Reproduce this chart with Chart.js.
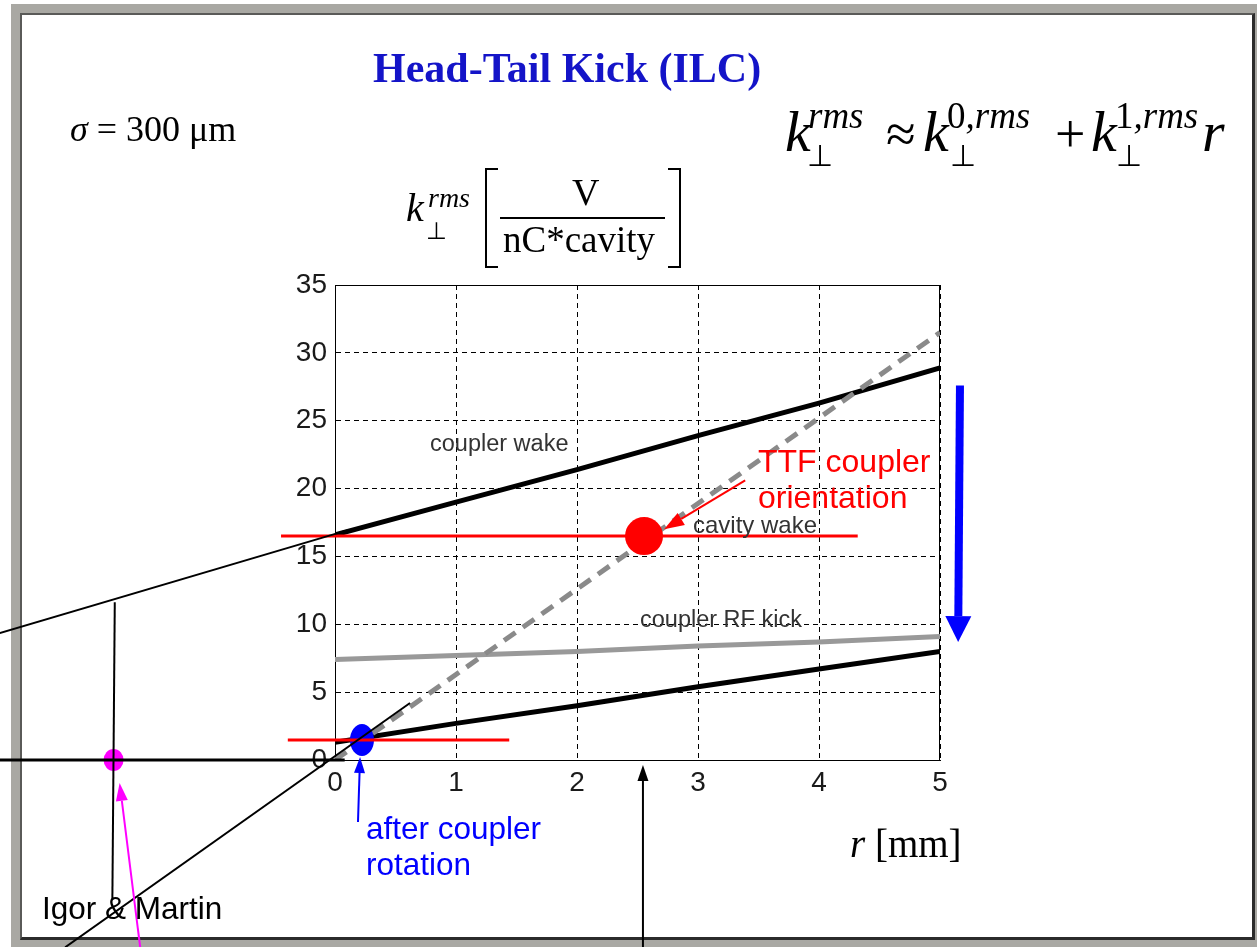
<!DOCTYPE html>
<html lang="en">
  <head>
    <meta charset="UTF-8" />
    <title>Head-Tail Kick (ILC)</title>
    <script src="https://cdn.jsdelivr.net/npm/chart.js"></script>
    <style>
      body {
        margin: 0;
        width: 1257px;
        height: 947px;
        background: #fff;
        position: relative;
        overflow: hidden;
      }
      .frame {
        position: absolute;
        left: 11px;
        top: 4px;
        right: 0;
        bottom: 0;
        background: #a9a8a3;
      }
      .slide {
        position: absolute;
        left: 20px;
        top: 13px;
        width: 1230px;
        height: 922px;
        background: #fff;
        border-left: 2px solid #5a5a58;
        border-top: 2px solid #5a5a58;
        border-right: 3px solid #2b2b2b;
        border-bottom: 3px solid #2b2b2b;
      }
      #chart {
        position: absolute;
        left: 0;
        top: 0;
      }
      .t {
        position: absolute;
        white-space: nowrap;
      }
      .br {
        position: absolute;
        border: 0 solid #000;
      }
    </style>
  </head>

  <body>
    <div class="frame"></div>
    <div class="slide"></div>
    <canvas id="chart" width="1257" height="947"></canvas>
    <div id="texts"></div>
    <div class="br" style="left:485px; top:168px; width:11px; height:96px; border-width:2px 0 2px 2px"></div>
    <div class="br" style="left:668px; top:168px; width:11px; height:96px; border-width:2px 2px 2px 0"></div>
    <div class="br" style="left:500px; top:217px; width:165px; height:0; border-top-width:2px"></div>

    <script>
      // values
      const rValues = [0, 1, 2, 3, 4, 5];
      const couplerWake = [16.6, 19.0, 21.4, 23.9, 26.3, 28.9];
      const cavityWake = [0, 6.3, 12.6, 18.9, 25.2, 31.5];
      const couplerRfKick = [7.4, 7.7, 8.0, 8.4, 8.7, 9.1];
      const afterRotation = [1.3, 2.7, 4.0, 5.4, 6.7, 8.0];
      const yTickValues = [0, 5, 10, 15, 20, 25, 30, 35];
      const xTickValues = [0, 1, 2, 3, 4, 5];

      const SERIF = '"Liberation Serif", "Times New Roman", serif';
      const SANS = '"Liberation Sans", Arial, sans-serif';

      // slide texts: [html, left, baseline, size, family, style]
      const texts = [
        ["Head-Tail Kick (ILC)", 373, 82, 42, SERIF, "font-weight:bold;color:#1414c8"],
        ["<i>σ</i> = 300 μm", 70, 141, 36, SERIF, ""],
        // right formula
        ["<i>k</i>", 785, 152, 58, SERIF, ""],
        ["<i>rms</i>", 808, 128, 37, SERIF, ""],
        ["⊥", 807, 166, 30, SERIF, ""],
        ["≈", 886, 152, 54, SERIF, ""],
        ["<i>k</i>", 923, 152, 58, SERIF, ""],
        ["0<i>,rms</i>", 947, 128, 37, SERIF, ""],
        ["⊥", 950, 166, 30, SERIF, ""],
        ["+", 1055, 152, 54, SERIF, ""],
        ["<i>k</i>", 1091, 152, 58, SERIF, ""],
        ["1<i>,rms</i>", 1115, 128, 37, SERIF, ""],
        ["⊥", 1116, 166, 30, SERIF, ""],
        ["<i>r</i>", 1202, 152, 58, SERIF, ""],
        // y axis unit
        ["<i>k</i>", 406, 221, 40, SERIF, ""],
        ["<i>rms</i>", 428, 207, 28, SERIF, ""],
        ["⊥", 426, 239, 24, SERIF, ""],
        ["V", 572, 205, 38, SERIF, ""],
        ["nC*cavity", 503, 252, 37, SERIF, ""],
        // x axis unit
        ["<i>r</i> [mm]", 850, 857, 39, SERIF, ""],
        // labels on the plot
        ["coupler wake", 430, 452, 23.5, SANS, "color:#333"],
        ["cavity wake", 693, 533, 24, SANS, "color:#333"],
        ["coupler RF kick", 640, 628, 23.5, SANS, "color:#333"],
        ["TTF coupler", 758, 472, 32, SANS, "color:#f00"],
        ["orientation", 758, 508, 32, SANS, "color:#f00"],
        ["after coupler", 366, 840, 31.5, SANS, "color:#00f"],
        ["rotation", 366, 876, 31.5, SANS, "color:#00f"],
        ["Igor &amp; Martin", 42, 920, 31.5, SANS, "color:#000"],
      ];

      const box = document.getElementById("texts");
      texts.forEach(([html, x, base, size, fam, extra]) => {
        const s = document.createElement("span");
        s.className = "t";
        s.innerHTML = html;
        const asc = fam === SERIF ? 0.8375 : 0.8465;
        s.style.cssText =
          `left:${x}px;top:${base - asc * size}px;font-size:${size}px;line-height:${size}px;font-family:${fam};` + extra;
        box.appendChild(s);
      });

      // annotation marks, in data units (r, k)
      const guideLines = [
        { from: [-2.77, 9.35], to: [0.107, 16.94], color: "#000", w: 2 },
        { from: [-1.82, 11.63], to: [-1.84, -10.3], color: "#000", w: 2 },
        { from: [-2.77, 0], to: [0.08, 0], color: "#000", w: 3 },
        { from: [-2.23, -13.8], to: [0.62, 4.2], color: "#000", w: 2 },
      ];
      const redLines = [
        { from: [-0.446, 16.5], to: [4.32, 16.5], color: "#f00", w: 3 },
        { from: [-0.39, 1.47], to: [1.44, 1.47], color: "#f00", w: 3 },
      ];
      const arrows = [
        { from: [2.545, -13.8], to: [2.545, -0.37], color: "#000", w: 2, hl: 16, hw: 11 },
        { from: [0.19, -4.57], to: [0.207, 0.22], color: "#00f", w: 2, hl: 16, hw: 11 },
        { from: [-1.61, -13.8], to: [-1.78, -1.69], color: "#f0f", w: 2, hl: 18, hw: 12 },
        { from: [3.39, 20.6], to: [2.72, 17.0], color: "#f00", w: 2, hl: 20, hw: 14 },
        { from: [5.165, 27.6], to: [5.15, 8.69], color: "#00f", w: 8, hl: 26, hw: 26 },
      ];
      const blueSpot = { at: [0.223, 1.47], rx: 12, ry: 16, color: "#00f" };
      const topDots = [
        { at: [2.554, 16.5], rx: 19, ry: 19, color: "#f00" },
        { at: [-1.83, 0], rx: 10, ry: 11, color: "#f0f" },
      ];

      function toPx(chart, p) {
        return [chart.scales.x.getPixelForValue(p[0]), chart.scales.y.getPixelForValue(p[1])];
      }
      function drawLine(ctx, chart, l) {
        const a = toPx(chart, l.from);
        const b = toPx(chart, l.to);
        ctx.strokeStyle = l.color;
        ctx.lineWidth = l.w;
        ctx.beginPath();
        ctx.moveTo(a[0], a[1]);
        ctx.lineTo(b[0], b[1]);
        ctx.stroke();
      }
      function drawArrow(ctx, chart, ar) {
        const a = toPx(chart, ar.from);
        const b = toPx(chart, ar.to);
        const ang = Math.atan2(b[1] - a[1], b[0] - a[0]);
        const bx = b[0] - Math.cos(ang) * ar.hl;
        const by = b[1] - Math.sin(ang) * ar.hl;
        ctx.strokeStyle = ar.color;
        ctx.fillStyle = ar.color;
        ctx.lineWidth = ar.w;
        ctx.beginPath();
        ctx.moveTo(a[0], a[1]);
        ctx.lineTo(bx, by);
        ctx.stroke();
        const nx = -Math.sin(ang) * ar.hw / 2;
        const ny = Math.cos(ang) * ar.hw / 2;
        ctx.beginPath();
        ctx.moveTo(b[0], b[1]);
        ctx.lineTo(bx + nx, by + ny);
        ctx.lineTo(bx - nx, by - ny);
        ctx.closePath();
        ctx.fill();
      }
      function drawDot(ctx, chart, d) {
        const c = toPx(chart, d.at);
        ctx.fillStyle = d.color;
        ctx.beginPath();
        ctx.ellipse(c[0], c[1], d.rx, d.ry, 0, 0, Math.PI * 2);
        ctx.fill();
      }

      const slidePlugin = {
        id: "slideMarks",
        beforeDatasetsDraw(chart) {
          const { ctx, chartArea: a } = chart;
          ctx.save();
          ctx.strokeStyle = "#000";
          ctx.lineWidth = 1;
          ctx.strokeRect(a.left + 0.5, a.top + 0.5, a.right - a.left - 1, a.bottom - a.top);
          ctx.restore();
        },
        afterDatasetsDraw(chart) {
          const ctx = chart.ctx;
          ctx.save();
          ctx.lineCap = "butt";
          drawDot(ctx, chart, blueSpot);
          redLines.forEach((l) => drawLine(ctx, chart, l));
          topDots.forEach((d) => drawDot(ctx, chart, d));
          guideLines.forEach((l) => drawLine(ctx, chart, l));
          arrows.forEach((ar) => drawArrow(ctx, chart, ar));
          ctx.restore();
        },
      };

      const pts = (ys) => rValues.map((x, i) => ({ x: x, y: ys[i] }));

      const chart = new Chart(document.getElementById("chart"), {
        type: "line",
        data: {
          datasets: [
            { label: "cavity wake", data: pts(cavityWake), borderColor: "#8a8a8a", borderWidth: 5, borderDash: [14, 9] },
            { label: "coupler RF kick", data: pts(couplerRfKick), borderColor: "#999", borderWidth: 5 },
            { label: "coupler wake", data: pts(couplerWake), borderColor: "#000", borderWidth: 5 },
            { label: "after rotation", data: pts(afterRotation), borderColor: "#000", borderWidth: 5 },
          ],
        },
        options: {
          responsive: false,
          animation: false,
          elements: { point: { radius: 0 }, line: { tension: 0 } },
          layout: { padding: { left: 285, right: 317, top: 285, bottom: 142 } },
          plugins: { legend: { display: false }, tooltip: { enabled: false } },
          scales: {
            x: {
              type: "linear",
              min: 0,
              max: 5,
              afterBuildTicks: (s) => { s.ticks = xTickValues.map((v) => ({ value: v })); },
              afterFit: (s) => { s.height = 45; },
              ticks: { font: { family: "Liberation Sans", size: 28 }, color: "#1a1a1a", padding: 6 },
              grid: { color: "#000", lineWidth: 1, drawTicks: false },
              border: { color: "#000", dash: [5, 4] },
            },
            y: {
              min: 0,
              max: 35,
              afterBuildTicks: (s) => { s.ticks = yTickValues.map((v) => ({ value: v })); },
              afterFit: (s) => { s.width = 50; },
              ticks: { font: { family: "Liberation Sans", size: 28 }, color: "#1a1a1a", padding: 8 },
              grid: { color: "#000", lineWidth: 1, drawTicks: false },
              border: { color: "#000", dash: [5, 4] },
            },
          },
        },
        plugins: [slidePlugin],
      });
    </script>
  </body>
</html>
